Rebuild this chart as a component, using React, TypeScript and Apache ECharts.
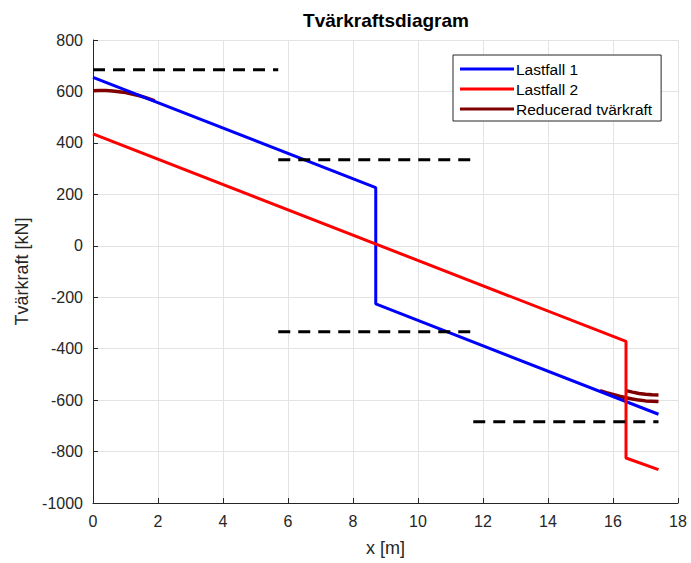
import React, { useEffect, useRef } from "react";
import * as echarts from "echarts";

// Lastfall 1 (blue)
const lf1X = [0, 8.7, 8.7, 17.4];
const lf1Y = [655, 226, -226, -655];
// Lastfall 2 (red)
const lf2X = [0, 16.4, 16.4, 17.4];
const lf2Y = [435, -372, -825, -870];
// Reducerad tvärkraft (dark red) - left support
const redLX = [0, 0.2, 0.4, 0.6, 0.8, 1.0, 1.2, 1.4, 1.6, 1.8, 1.9];
const redLY = [603, 604, 604, 602, 599, 596, 590, 584, 577, 568, 563];
// Reducerad tvärkraft - right support, lower branch
const redR1X = [15.6, 15.8, 16.0, 16.2, 16.4, 16.6, 16.8, 17.0, 17.2, 17.4];
const redR1Y = [-563, -571, -578, -585, -591, -596, -600, -603, -604, -605];
// Reducerad tvärkraft - right support, upper branch
const redR2X = [16.4, 16.6, 16.8, 17.0, 17.2, 17.4];
const redR2Y = [-563, -569, -574, -577, -579, -580];
// Dashed limit lines
const dash1X = [0, 5.7];
const dash1Y = [684, 684];
const dash2X = [5.7, 11.7];
const dash2Y = [334, 334];
const dash3X = [5.7, 11.7];
const dash3Y = [-334, -334];
const dash4X = [11.7, 17.4];
const dash4Y = [-684, -684];

const xTicks = { min: 0, max: 18, interval: 2 };
const yTicks = { min: -1000, max: 800, interval: 200 };

const zip = (xs: number[], ys: number[]) => xs.map((x, i) => [x, ys[i]]);

const FONT = "'Liberation Sans', Arial, Helvetica, sans-serif";
const TXT = "#262626";

export default function App() {
  const ref = useRef<HTMLDivElement>(null);
  useEffect(() => {
    if (!ref.current) return;
    const chart = echarts.init(ref.current, undefined, { renderer: "svg" });
    const lineBase = (name: string, xs: number[], ys: number[], color: string, width: number, z: number) => ({
      name,
      type: "line",
      data: zip(xs, ys),
      showSymbol: false,
      symbol: "none",
      lineStyle: { color, width },
      itemStyle: { color },
      z,
      silent: true,
    });
    const dashed = (name: string, xs: number[], ys: number[]) => ({
      name,
      type: "line",
      data: zip(xs, ys),
      showSymbol: false,
      symbol: "none",
      lineStyle: { color: "#000000", width: 3, type: [12, 8] },
      z: 5,
      silent: true,
    });
    chart.setOption({
      animation: false,
      backgroundColor: "#ffffff",
      textStyle: { fontFamily: FONT },
      grid: { left: 93, right: 13, top: 40, bottom: 60, containLabel: false },
      graphic: [
        {
          type: "text",
          x: 386,
          y: 20,
          style: {
            text: "Tvärkraftsdiagram",
            fill: "#000000",
            font: `bold 19px ${FONT}`,
            textAlign: "center",
            textVerticalAlign: "middle",
          },
        },
      ],
      xAxis: {
        type: "value",
        min: xTicks.min,
        max: xTicks.max,
        interval: xTicks.interval,
        name: "x [m]",
        nameLocation: "middle",
        nameGap: 36,
        nameTextStyle: { color: TXT, fontSize: 18, fontFamily: FONT },
        axisLine: { show: true, onZero: false, lineStyle: { color: TXT, width: 1 } },
        axisTick: { show: true, inside: true, length: 5, lineStyle: { color: TXT } },
        axisLabel: { color: TXT, fontSize: 16, margin: 10, fontFamily: FONT },
        splitLine: { show: true, lineStyle: { color: "#e3e3e3", width: 1 } },
      },
      yAxis: {
        type: "value",
        min: yTicks.min,
        max: yTicks.max,
        interval: yTicks.interval,
        name: "Tvärkraft [kN]",
        nameLocation: "middle",
        nameGap: 62,
        nameTextStyle: { color: TXT, fontSize: 18, fontFamily: FONT },
        axisLine: { show: true, onZero: false, lineStyle: { color: TXT, width: 1 } },
        axisTick: { show: true, inside: true, length: 5, lineStyle: { color: TXT } },
        axisLabel: {
          color: TXT,
          fontSize: 16,
          margin: 10,
          fontFamily: FONT,
          formatter: (v: number) => String(v),
        },
        splitLine: { show: true, lineStyle: { color: "#e3e3e3", width: 1 } },
      },
      legend: {
        data: ["Lastfall 1", "Lastfall 2", "Reducerad tvärkraft"],
        orient: "vertical",
        left: 453,
        top: 55,
        padding: [6, 9, 4, 7],
        itemGap: 4,
        itemWidth: 54,
        itemHeight: 3,
        icon: "rect",
        borderColor: "#262626",
        borderWidth: 1,
        borderRadius: 0,
        backgroundColor: "#ffffff",
        textStyle: { color: "#000000", fontSize: 15.5, fontFamily: FONT, padding: [0, 0, 0, -3] },
        selectedMode: false,
      },
      series: [
        dashed("d1", dash1X, dash1Y),
        dashed("d2", dash2X, dash2Y),
        dashed("d3", dash3X, dash3Y),
        dashed("d4", dash4X, dash4Y),
        lineBase("Reducerad tvärkraft", redLX, redLY, "#800000", 3.5, 2),
        lineBase("Reducerad tvärkraft", redR1X, redR1Y, "#800000", 3.5, 2),
        lineBase("Reducerad tvärkraft", redR2X, redR2Y, "#800000", 3.5, 2),
        lineBase("Lastfall 1", lf1X, lf1Y, "#0000ff", 3, 3),
        lineBase("Lastfall 2", lf2X, lf2Y, "#ff0000", 3, 4),
      ],
    });
    return () => chart.dispose();
  }, []);
  return (
    <div
      ref={ref}
      style={{ position: "fixed", left: 0, top: 0, width: 691, height: 563, background: "#ffffff" }}
    />
  );
}
